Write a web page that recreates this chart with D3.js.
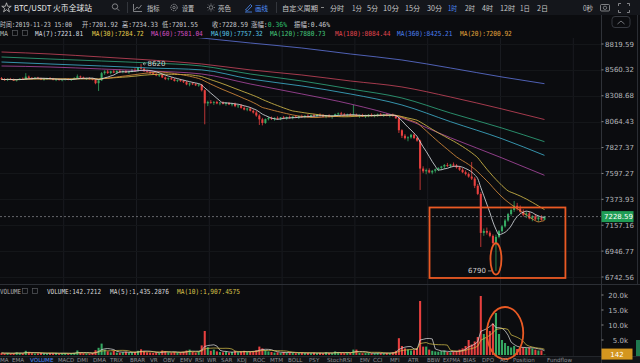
<!DOCTYPE html>
<html><head><meta charset="utf-8">
<script src="https://cdn.jsdelivr.net/npm/d3@7"></script>
<style>
html,body{margin:0;padding:0;background:#0b0c0f;overflow:hidden}
svg{display:block}
</style></head>
<body><svg id="c" width="640" height="363"></svg>
<script>
// ---------------- DATA ----------------
// hourly candles [open, high, low, close]
const ohlc = [
[8478,8490,8462,8468],[8468,8480,8455,8462],[8462,8476,8450,8471],[8471,8482,8460,8464],[8464,8475,8452,8458],
[8458,8470,8446,8466],[8466,8478,8458,8474],[8474,8486,8462,8468],[8468,8528,8462,8494],[8494,8505,8476,8482],
[8482,8490,8468,8476],[8476,8488,8466,8484],[8484,8492,8470,8474],[8474,8485,8460,8466],[8466,8478,8455,8470],
[8470,8484,8462,8480],[8480,8490,8468,8472],[8472,8482,8458,8462],[8462,8474,8450,8468],[8468,8478,8455,8460],
[8460,8472,8448,8466],[8466,8476,8456,8470],[8470,8480,8458,8464],[8464,8474,8452,8470],[8470,8486,8462,8482],
[8482,8515,8474,8496],[8496,8504,8480,8486],[8486,8494,8470,8474],[8474,8484,8462,8478],[8478,8488,8466,8472],
[8472,8482,8458,8466],[8466,8474,8420,8430],[8430,8470,8355,8458],[8458,8540,8452,8528],[8528,8556,8512,8544],
[8544,8560,8520,8530],[8530,8552,8518,8546],[8546,8562,8528,8534],[8534,8556,8524,8550],[8550,8566,8532,8540],
[8540,8556,8526,8548],[8548,8560,8530,8536],[8536,8552,8522,8544],[8544,8570,8536,8560],[8560,8578,8540,8552],
[8552,8590,8544,8580],[8580,8620,8566,8572],[8572,8584,8540,8548],[8548,8562,8532,8540],[8540,8552,8520,8528],
[8528,8540,8510,8518],[8518,8530,8498,8506],[8506,8520,8490,8512],[8512,8522,8480,8486],[8486,8496,8460,8470],
[8470,8486,8458,8478],[8478,8490,8462,8468],[8468,8478,8446,8452],[8452,8468,8440,8460],[8460,8472,8444,8450],
[8450,8462,8432,8440],[8440,8452,8410,8418],[8418,8436,8400,8428],[8428,8440,8412,8420],[8420,8432,8402,8410],
[8410,8424,8396,8416],[8416,8422,8350,8362],[8362,8370,8040,8236],[8236,8262,8210,8250],[8250,8268,8232,8242],
[8242,8258,8222,8250],[8250,8262,8228,8236],[8236,8250,8218,8244],[8244,8256,8226,8232],[8232,8246,8214,8238],
[8238,8250,8220,8226],[8226,8240,8208,8232],[8232,8244,8200,8210],[8210,8224,8192,8216],[8216,8228,8186,8194],
[8194,8208,8170,8178],[8178,8196,8162,8188],[8188,8200,8160,8166],[8166,8180,8140,8150],[8150,8166,8110,8122],
[8122,8134,8034,8086],[8086,8100,8030,8052],[8052,8094,8044,8088],[8088,8110,8076,8098],[8098,8112,8080,8090],
[8090,8104,8074,8100],[8100,8114,8082,8092],[8092,8108,8078,8104],[8104,8118,8088,8096],[8096,8112,8082,8108],
[8108,8122,8092,8100],[8100,8116,8086,8112],[8112,8126,8098,8104],[8104,8120,8090,8116],[8116,8130,8100,8110],
[8110,8124,8096,8120],[8120,8134,8104,8114],[8114,8130,8100,8124],[8124,8138,8110,8118],[8118,8134,8104,8128],
[8128,8142,8112,8122],[8122,8136,8104,8112],[8112,8128,8096,8120],[8120,8134,8104,8110],[8110,8126,8092,8118],
[8118,8140,8108,8134],[8134,8150,8120,8142],[8142,8156,8126,8132],[8132,8146,8114,8124],[8124,8140,8108,8130],
[8130,8144,8112,8118],[8118,8222,8108,8126],[8126,8140,8110,8116],[8116,8132,8100,8124],[8124,8138,8108,8114],
[8114,8130,8098,8122],[8122,8136,8106,8128],[8128,8142,8112,8120],[8120,8134,8104,8126],[8126,8140,8110,8132],
[8132,8146,8116,8124],[8124,8138,8108,8130],[8130,8144,8114,8122],[8122,8136,8104,8128],[8128,8140,8110,8118],
[8118,8126,8090,8096],[8096,8102,7960,7985],[7985,7994,7914,7935],[7935,7950,7900,7912],[7912,7930,7884,7920],
[7920,7952,7908,7944],[7944,7956,7904,7914],[7914,7926,7880,7890],[7890,7898,7454,7640],[7640,7660,7600,7616],
[7616,7640,7590,7626],[7626,7642,7598,7606],[7606,7628,7590,7620],[7620,7640,7604,7634],[7634,7652,7618,7646],
[7646,7664,7628,7658],[7658,7680,7640,7672],[7672,7690,7654,7662],[7662,7682,7648,7676],[7676,7694,7656,7666],
[7666,7680,7640,7650],[7650,7662,7620,7630],[7630,7644,7600,7608],[7608,7624,7580,7592],[7592,7606,7560,7570],
[7570,7698,7540,7552],[7552,7566,7470,7490],[7490,7506,7410,7420],[7420,7436,6980,7094],[7094,7130,7070,7110],
[7110,7138,7080,7096],[7096,7112,7058,7070],[7070,7082,7000,7012],[7012,7080,6790,7062],[7062,7118,7050,7108],
[7108,7160,7096,7148],[7148,7210,7138,7196],[7196,7260,7186,7250],[7250,7296,7236,7284],[7284,7360,7268,7320],
[7320,7344,7280,7296],[7296,7322,7260,7270],[7270,7290,7230,7244],[7244,7270,7216,7256],[7256,7272,7206,7214],
[7214,7240,7190,7232],[7232,7250,7198,7206],[7206,7236,7186,7222],[7222,7240,7195,7202],[7201.92,7234.33,7201.55,7228.59]
];
const volumes = [
700,520,640,480,560,900,620,540,1400,980,
620,480,560,700,520,460,640,580,720,500,
540,620,480,560,700,1500,820,600,540,480,
660,1600,2400,3800,1800,1200,900,1400,800,760,
900,1100,700,860,1000,1400,1900,1300,900,800,
700,860,640,1500,1300,900,760,1000,840,900,
1100,1500,1800,1000,800,1200,3200,8000,2600,1400,
1800,1200,1000,900,1100,800,1000,1300,900,1200,
1400,1000,1100,1300,1600,2800,2200,1600,1200,1000,
800,900,700,1000,800,900,760,600,700,800,
640,700,580,760,600,700,560,900,640,600,
1200,900,700,640,800,760,1800,1800,700,600,
640,700,560,600,720,640,580,700,600,900,
1400,5600,3000,2200,1800,1500,1600,2200,18000,2800,
2800,1800,1400,1200,1100,1300,1500,1000,900,1200,
1400,1800,2200,3000,5000,3500,4500,6000,20500,7000,
6000,8000,10500,14000,7000,5000,4000,3000,2500,3000,
2000,2600,2500,2300,2500,2200,1800,1500,1533,142.7212
];
// long moving averages at these candle indices
const maIdx  = [0,16,33,49,66,82,99,115,132,148,165,179];
const ma60   = [8598.8,8589.0,8569.2,8549.5,8519.9,8422.5,8326.0,8230.6,8098.8,7916.3,7734.2,7581.04];
const ma90   = [8638.5,8618.7,8598.8,8579.1,8560.3,8471.0,8403.2,8326.0,8221.1,8064.4,7907.2,7757.32];
const ma120  = [8688.5,8668.4,8648.6,8628.7,8598.8,8519.9,8451.6,8374.1,8287.5,8145.5,8005.3,7880.73];
const ma180  = [8738.7,8718.6,8688.5,8658.5,8618.7,8560.3,8510.1,8451.6,8393.5,8297.0,8183.2,8084.44];
const ma360  = [9066.8,9035.6,8994.0,8942.4,8880.8,8829.8,8779.0,8718.6,8658.5,8579.1,8490.6,8425.21];
const priceTicks  = [8819.59,8560.32,8308.68,8064.43,7827.37,7597.27,7373.93,7157.16,6946.77,6742.56];
const volumeTicks = [5000,10000,15000,20000];
const volTickLabels = ["5.0k","10.0k","15.0k","20.0k"];
const periods = ["分时","1分","5分","10分","15分","30分","1时","2时","4时","12时","1日","2日"];
const indicators = ["MA","EMA","VOLUME","MACD","DMI","DMA","TRIX","BRAR","VR","OBV","EMV","RSI","WR","SAR","KDJ","ROC","MTM","BOLL","PSY","StochRSI","EMV","CCI","MFI","ATR","BBW","EXPMA","BIAS","DPO","AO","Position","Fundflow"];

// ---------------- LAYOUT / STYLE ----------------
const W=640,H=363;
const RED="#e8403f", GREEN="#35a862";
const MONO="'DejaVu Sans Mono','Noto Sans CJK SC',monospace";
const CJK="'Noto Sans CJK SC','Noto Sans',sans-serif";
const SANS="'DejaVu Sans','Noto Sans',sans-serif";
const periodX=[330,352,367,383,405,427,448,465,482,500,520,537];
const periodLen=[14,10,11,16,15,15,9,10,11,15,10,11];
const indX=[0,12,30,58,77,93,110,130,150,163,180,195,207,221,237,253,270,288,309,327,360,373,390,408,427,443,463,482,500,513,547,580];

const svg=d3.select('#c');
svg.append('rect').attr('width',W).attr('height',H).attr('fill','#0b0c0f');
svg.append('rect').attr('width',W).attr('height',15).attr('fill','#14161b');
svg.append('rect').attr('y',356).attr('width',W).attr('height',7).attr('fill','#111317');

const n=ohlc.length;
const x=d3.scaleLinear().domain([0,n]).range([0,546]);
const cx=i=>x(i+0.5);
const bw=(x(1)-x(0))*0.68;
const y=d3.scaleLog().domain([6742.56,8819.59]).range([277,44]);
const yv=d3.scaleLinear().domain([0,20000]).range([355,295]);

const defs=svg.append('defs');
defs.append('clipPath').attr('id','cm').append('rect').attr('x',0).attr('y',38).attr('width',601).attr('height',246);
defs.append('clipPath').attr('id','cv').append('rect').attr('x',0).attr('y',296).attr('width',601).attr('height',60);

// grid
const grid=svg.append('g');
d3.range(21,n+12,24).forEach(i=>{
  grid.append('line').attr('x1',x(i)).attr('x2',x(i)).attr('y1',38).attr('y2',356).attr('stroke','#191b20').attr('stroke-width',1);
});
priceTicks.forEach(p=>grid.append('line').attr('x1',0).attr('x2',601).attr('y1',Math.round(y(p))+0.5).attr('y2',Math.round(y(p))+0.5).attr('stroke','#141619'));

// separators
svg.append('line').attr('x1',0).attr('x2',W).attr('y1',284.5).attr('y2',284.5).attr('stroke','#2c2f35');
svg.append('line').attr('x1',0).attr('x2',W).attr('y1',356.5).attr('y2',356.5).attr('stroke','#23262b');
svg.append('line').attr('x1',601.5).attr('x2',601.5).attr('y1',15).attr('y2',H).attr('stroke','#2f3238');
svg.append('line').attr('x1',637.5).attr('x2',637.5).attr('y1',15).attr('y2',284).attr('stroke','#2a2d33');

// ---------------- candles ----------------
const gm=svg.append('g').attr('clip-path','url(#cm)');
const col=d=>d[3]>=d[0]?GREEN:RED;
gm.selectAll('line.w').data(ohlc).join('line').attr('class','w')
  .attr('x1',(d,i)=>cx(i)).attr('x2',(d,i)=>cx(i))
  .attr('y1',d=>y(d[1])).attr('y2',d=>y(d[2])).attr('stroke',col).attr('stroke-width',0.8);
gm.selectAll('rect.b').data(ohlc).join('rect').attr('class','b')
  .attr('x',(d,i)=>cx(i)-bw/2).attr('width',bw)
  .attr('y',d=>y(Math.max(d[0],d[3])))
  .attr('height',d=>Math.max(0.8,Math.abs(y(d[0])-y(d[3])))).attr('fill',col);

// moving averages
const closes=ohlc.map(d=>d[3]);
const movAvg=(a,k)=>a.map((_,i)=>d3.mean(a.slice(Math.max(0,i-k+1),i+1)));
const lineGen=d3.line().x(d=>d[0]).y(d=>d[1]).curve(d3.curveMonotoneX);
const sampled=arr=>maIdx.map((i,j)=>[cx(i),y(arr[j])]);
const computed=arr=>arr.map((v,i)=>[cx(i),y(v)]);
const maLines=[
  [sampled(ma360),'#5d72d6'],[sampled(ma180),'#c44459'],[sampled(ma120),'#2fa57c'],
  [sampled(ma90),'#3eaecb'],[sampled(ma60),'#a9479f'],
  [computed(movAvg(closes,30)),'#d6bc4a'],[computed(movAvg(closes,20)),'#d98e3d'],
  [computed(movAvg(closes,7)),'#d8dde2']
];
maLines.forEach(([pts,c])=>gm.append('path').attr('d',lineGen(pts)).attr('fill','none').attr('stroke',c).attr('stroke-width',0.9).attr('opacity',0.92));

// last price dashed line
const last=ohlc[n-1];
svg.append('line').attr('x1',0).attr('x2',601).attr('y1',y(last[3])).attr('y2',y(last[3]))
  .attr('stroke','#8a8d92').attr('stroke-width',0.7).attr('stroke-dasharray','2,2');

// high / low markers
const hiI=d3.maxIndex(ohlc,d=>d[1]), loI=d3.minIndex(ohlc,d=>d[2]);
const fmt=d3.format('d');
svg.append('path').attr('d',`M${cx(hiI)+5},${y(ohlc[hiI][1])} H${cx(hiI)+2} M${cx(hiI)+3.5},${y(ohlc[hiI][1])-1.3} L${cx(hiI)+2},${y(ohlc[hiI][1])} L${cx(hiI)+3.5},${y(ohlc[hiI][1])+1.3}`).attr('fill','none').attr('stroke','#bbb').attr('stroke-width',0.7);
svg.append('text').attr('x',cx(hiI)+6.5).attr('y',y(ohlc[hiI][1])+2.5).attr('font-family',SANS).attr('font-size',7).attr('fill','#d0d0d0').text(fmt(ohlc[hiI][1]));
svg.append('line').attr('x1',cx(loI)-8).attr('x2',cx(loI)-4).attr('y1',y(ohlc[loI][2])).attr('y2',y(ohlc[loI][2])).attr('stroke','#bbb').attr('stroke-width',0.7);
svg.append('text').attr('x',cx(loI)-10).attr('y',y(ohlc[loI][2])+2.5).attr('text-anchor','end').attr('font-family',SANS).attr('font-size',7).attr('fill','#d0d0d0').text(fmt(ohlc[loI][2]));

// ---------------- volume ----------------
const gv=svg.append('g').attr('clip-path','url(#cv)');
gv.selectAll('rect').data(volumes).join('rect')
  .attr('x',(d,i)=>cx(i)-bw/2).attr('width',bw)
  .attr('y',d=>yv(d)).attr('height',d=>Math.max(0.5,yv(0)-yv(d)))
  .attr('fill',(d,i)=>col(ohlc[i]));
[[movAvg(volumes,5),'#e0e0e0'],[movAvg(volumes,10),'#d8c24a']].forEach(([a,c])=>
  gv.append('path').attr('d',d3.line().x((d,i)=>cx(i)).y(d=>yv(d))(a)).attr('fill','none').attr('stroke',c).attr('stroke-width',0.8).attr('opacity',0.9));

// ---------------- axes ----------------
const ax=svg.append('g').attr('font-family',SANS).attr('font-size',7).attr('fill','#b4b6ba');
priceTicks.forEach(p=>{
  ax.append('line').attr('x1',601.5).attr('x2',603.5).attr('y1',y(p)).attr('y2',y(p)).attr('stroke','#888');
  ax.append('text').attr('x',605).attr('y',y(p)+2.5).text(d3.format('.2f')(p));
});
volumeTicks.forEach((v,j)=>{
  ax.append('line').attr('x1',601.5).attr('x2',603.5).attr('y1',yv(v)).attr('y2',yv(v)).attr('stroke','#888');
  ax.append('text').attr('x',628).attr('y',yv(v)+2.5).attr('text-anchor','end').text(volTickLabels[j]);
});
// price badge
svg.append('rect').attr('x',601.5).attr('y',y(last[3])-5.5).attr('width',32).attr('height',11).attr('fill','#1f9d55');
svg.append('text').attr('x',604).attr('y',y(last[3])+2.5).attr('font-family',SANS).attr('font-size',7).attr('fill','#fff').text(d3.format('.2f')(last[3]));
// volume badge
const lastV=volumes[n-1];
svg.append('rect').attr('x',601.5).attr('y',yv(lastV)-6).attr('width',31).attr('height',11).attr('fill','#d4961f');
svg.append('text').attr('x',617).attr('y',yv(lastV)+2.5).attr('text-anchor','middle').attr('font-family',SANS).attr('font-size',7).attr('fill','#fff').text(String(Math.floor(lastV)));
svg.append('rect').attr('x',636).attr('y',340).attr('width',4).attr('height',16).attr('fill','#1f7a4f');

// ---------------- annotations ----------------
const ORANGE="#ea5a24";
svg.append('rect').attr('x',x(141.6)).attr('y',y(7305)).attr('width',x(186.4)-x(141.6)).attr('height',y(6735)-y(7305))
  .attr('fill','none').attr('stroke',ORANGE).attr('stroke-width',1.8);
svg.append('ellipse').attr('cx',cx(loI)).attr('cy',(y(7010)+y(6762))/2).attr('rx',5.5).attr('ry',(y(6762)-y(7010))/2)
  .attr('fill','none').attr('stroke',ORANGE).attr('stroke-width',1.8);
svg.append('ellipse').attr('cx',cx(166)).attr('cy',yv(7300)).attr('rx',x(6)-x(0)).attr('ry',yv(0)-yv(8700))
  .attr('fill','none').attr('stroke',ORANGE).attr('stroke-width',1.8);

// ---------------- text rows ----------------
function label(xp,yp,parts,len,opts={}){
  const t=svg.append('text').attr('x',xp).attr('y',yp).attr('font-family',opts.family||MONO).attr('font-size',opts.size||7);
  if(len) t.attr('textLength',len).attr('lengthAdjust','spacingAndGlyphs');
  parts.forEach(([s,c])=>t.append('tspan').text(s).attr('fill',c));
  return t;
}
const G='#c6c8cc';
// top bar
svg.append('path').attr('d',d3.symbol(d3.symbolStar).size(28)()).attr('transform','translate(6.5,7.8)').attr('fill','none').attr('stroke','#c8c8c8').attr('stroke-width',0.8);
label(14,10.5,[["BTC/USDT 火币全球站",'#e8e8e8']],78,{family:CJK,size:8});
svg.append('circle').attr('cx',115).attr('cy',6.5).attr('r',2.7).attr('fill','none').attr('stroke','#9a9ca0').attr('stroke-width',0.8);
svg.append('line').attr('x1',117).attr('y1',8.5).attr('x2',119.2).attr('y2',10.7).attr('stroke','#9a9ca0').attr('stroke-width',0.8);
[127.5,276.5].forEach(v=>svg.append('line').attr('x1',v).attr('x2',v).attr('y1',2).attr('y2',13).attr('stroke','#33363c'));
svg.append('path').attr('d','M133.5,4 V11.5 H142 M134.5,10 L137,7 L139,8.5 L141.5,5').attr('fill','none').attr('stroke','#9a9ca0').attr('stroke-width',0.8);
label(147,10.5,[["指标",'#c8c8c8']],12.5,{family:CJK});
svg.append('circle').attr('cx',174).attr('cy',7.5).attr('r',3.2).attr('fill','none').attr('stroke','#9a9ca0').attr('stroke-width',0.9).attr('stroke-dasharray','1.5,0.8');
svg.append('circle').attr('cx',174).attr('cy',7.5).attr('r',1.2).attr('fill','none').attr('stroke','#9a9ca0').attr('stroke-width',0.7);
label(182,10.5,[["设置",'#c8c8c8']],12,{family:CJK});
svg.append('circle').attr('cx',211).attr('cy',7.5).attr('r',1.8).attr('fill','none').attr('stroke','#9a9ca0').attr('stroke-width',0.7);
d3.range(8).forEach(k=>{const a=k*Math.PI/4;svg.append('line').attr('x1',211+2.8*Math.cos(a)).attr('y1',7.5+2.8*Math.sin(a)).attr('x2',211+4*Math.cos(a)).attr('y2',7.5+4*Math.sin(a)).attr('stroke','#9a9ca0').attr('stroke-width',0.7);});
label(218,10.5,[["亮色",'#c8c8c8']],13,{family:CJK});
svg.append('path').attr('d','M245.5,10 L250.5,4.5 L252,6 L247,11.2 Z M245,12 H252').attr('fill','none').attr('stroke','#4d8cf5').attr('stroke-width',0.8);
label(255,10.5,[["画线",'#4d8cf5']],13,{family:CJK});
label(282,10.5,[["自定义周期",'#c8c8c8']],36,{family:CJK});
svg.append('line').attr('x1',321).attr('x2',324).attr('y1',7.5).attr('y2',7.5).attr('stroke','#888');
periods.forEach((p,k)=>label(periodX[k],10.5,[[p,p==="1时"?'#4d8cf5':'#c8c8c8']],periodLen[k],{family:CJK}));
label(583,10.5,[["0秒",'#c8c8c8']],10,{family:CJK});
svg.append('rect').attr('x',600.5).attr('y',4.5).attr('width',9).attr('height',6.5).attr('rx',1).attr('fill','none').attr('stroke','#9a9ca0').attr('stroke-width',0.8);
svg.append('circle').attr('cx',605).attr('cy',7.8).attr('r',1.7).attr('fill','none').attr('stroke','#9a9ca0').attr('stroke-width',0.7);
svg.append('path').attr('d','M618.5,6 V3.5 H621 M627,3.5 H629.5 V6 M629.5,10 V12.5 H627 M621,12.5 H618.5 V10').attr('fill','none').attr('stroke','#9a9ca0').attr('stroke-width',0.8);
svg.append('rect').attr('x',612).attr('y',16.5).attr('width',18).attr('height',11).attr('rx',3).attr('fill','none').attr('stroke','#363940');
svg.append('path').attr('d','M617.5,24 L621,21 L624.5,24').attr('fill','none').attr('stroke','#8a8d92').attr('stroke-width',0.8);

// info row
const o=last;
label(0,26.5,[["时间:2019-11-23 15:00",G]],72);
label(82,26.5,[["开:"+o[0].toFixed(2),G]],36);
label(122,26.5,[["高:"+o[1].toFixed(2),G]],36);
label(162,26.5,[["低:"+o[2].toFixed(2),G]],36);
label(212,26.5,[["收:"+o[3].toFixed(2),G]],36);
label(251,26.5,[["涨幅:",G],["0.36%",'#2ebd6b']],36);
label(294,26.5,[["振幅:0.46%",G]],36);

// MA row
label(0,35.5,[["MA",'#b0b0b0']],8);
[12,22].forEach(v=>svg.append('rect').attr('x',v+0.5).attr('y',30.5).attr('width',5).attr('height',5).attr('fill','none').attr('stroke','#5a5d62').attr('stroke-width',0.7));
const maLegend=[["MA(7):7221.81",'#d8dde2',35],["MA(30):7284.72",'#e6cf4e',92],["MA(60):7581.04",'#d24fc2',151],
 ["MA(90):7757.32",'#58c4e6',211],["MA(120):7880.73",'#45c77d',270],["MA(180):8084.44",'#e2464f',335],
 ["MA(360):8425.21",'#4a7ef0',397],["MA(20):7200.92",'#e3a53c',460]];
maLegend.forEach(([s,c,xp])=>label(xp,35.5,[[s,c]],s.length*3.7));

// volume row
label(0,293.5,[["VOLUME",'#b0b0b0']],21);
[22,32].forEach(v=>svg.append('rect').attr('x',v+0.5).attr('y',288.5).attr('width',5).attr('height',5).attr('fill','none').attr('stroke','#5a5d62').attr('stroke-width',0.7));
label(47,293.5,[["VOLUME:"+d3.format('.4f')(lastV),'#d8d8d8']],54);
label(110,293.5,[["MA(5):1,435.2876",'#d8d8d8']],59);
label(177,293.5,[["MA(10):1,907.4575",'#d8c24a']],63);

// indicator tab row
indicators.forEach((s,k)=>{
  const t=svg.append('text').attr('x',indX[k]).attr('y',362.3).attr('font-family',SANS).attr('font-size',5.6)
    .attr('fill',k===2?'#4d8cf5':'#8c8f94').text(s);
  const avail=indX[k+1]-indX[k]-3;
  if(t.node().getComputedTextLength()>avail) t.attr('textLength',avail).attr('lengthAdjust','spacingAndGlyphs');
});
</script>
</body></html>
